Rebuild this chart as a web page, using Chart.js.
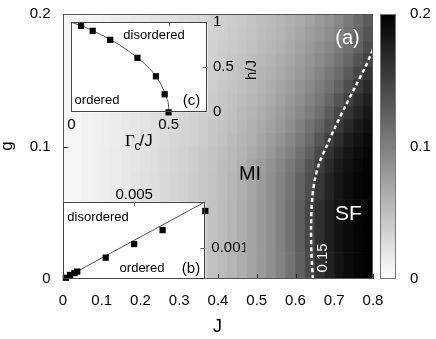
<!DOCTYPE html>
<html><head><meta charset="utf-8">
<script src="https://cdn.jsdelivr.net/npm/chart.js@4.4.1/dist/chart.umd.min.js"></script>
<style>
html,body{margin:0;padding:0;background:#fff;}
#wrap{position:relative;width:436px;height:339px;overflow:hidden;}
#wrap canvas{position:absolute;left:0;top:0;}
</style></head><body>
<div id="wrap">
<canvas id="main" width="436" height="339"></canvas>
<canvas id="insetB" width="436" height="339"></canvas>
<canvas id="insetC" width="436" height="339"></canvas>
</div>
<script>
// ---------- data ----------
const jCenters = [0.0125,0.0375,0.0625,0.0875,0.1125,0.1375,0.1625,0.1875,0.2125,0.2375,0.2625,0.2875,0.3125,0.3375,0.3625,0.3875,0.4125,0.4375,0.4625,0.4875,0.5125,0.5375,0.5625,0.5875,0.6125,0.6375,0.6625,0.6875,0.7125,0.7375,0.7625,0.7875];
const gEdges = [0,0.02,0.04,0.06,0.08,0.09,0.10,0.11,0.12,0.13,0.14,0.15,0.16,0.17,0.18,0.19,0.20];
const heatRows = [
 [0.006,0.008,0.010,0.012,0.014,0.016,0.018,0.021,0.024,0.027,0.030,0.033,0.036,0.040,0.044,0.048,0.053,0.058,0.064,0.071,0.079,0.088,0.098,0.110,0.124,0.142,0.160,0.174,0.184,0.191,0.196,0.199],
 [0.006,0.008,0.010,0.012,0.014,0.016,0.018,0.021,0.024,0.027,0.030,0.033,0.036,0.040,0.044,0.048,0.053,0.058,0.064,0.071,0.079,0.088,0.099,0.111,0.126,0.145,0.162,0.175,0.185,0.191,0.196,0.199],
 [0.006,0.008,0.010,0.012,0.014,0.016,0.018,0.021,0.024,0.027,0.030,0.033,0.036,0.040,0.044,0.048,0.053,0.058,0.064,0.071,0.079,0.088,0.099,0.111,0.126,0.144,0.162,0.175,0.185,0.191,0.196,0.199],
 [0.006,0.008,0.010,0.012,0.014,0.016,0.018,0.021,0.024,0.027,0.030,0.033,0.036,0.040,0.043,0.047,0.052,0.057,0.063,0.070,0.078,0.087,0.097,0.108,0.122,0.139,0.157,0.172,0.183,0.190,0.195,0.198],
 [0.006,0.008,0.010,0.012,0.014,0.016,0.018,0.020,0.023,0.026,0.029,0.032,0.035,0.039,0.043,0.046,0.052,0.056,0.062,0.069,0.076,0.085,0.094,0.105,0.118,0.134,0.151,0.167,0.179,0.187,0.193,0.197],
 [0.006,0.008,0.010,0.012,0.014,0.016,0.018,0.020,0.023,0.026,0.029,0.032,0.035,0.039,0.043,0.046,0.050,0.055,0.060,0.066,0.073,0.081,0.090,0.100,0.111,0.125,0.142,0.160,0.173,0.183,0.190,0.195],
 [0.006,0.008,0.010,0.012,0.013,0.015,0.017,0.020,0.022,0.025,0.028,0.031,0.034,0.036,0.040,0.044,0.048,0.053,0.058,0.063,0.070,0.077,0.085,0.094,0.105,0.117,0.132,0.149,0.165,0.177,0.186,0.192],
 [0.006,0.008,0.010,0.012,0.013,0.015,0.017,0.020,0.022,0.025,0.028,0.031,0.034,0.036,0.040,0.044,0.047,0.051,0.056,0.061,0.067,0.073,0.081,0.089,0.099,0.110,0.122,0.138,0.155,0.169,0.180,0.187],
 [0.006,0.008,0.010,0.011,0.013,0.015,0.017,0.019,0.021,0.024,0.027,0.029,0.032,0.035,0.038,0.041,0.045,0.049,0.054,0.058,0.064,0.070,0.077,0.084,0.093,0.103,0.114,0.128,0.144,0.160,0.172,0.182],
 [0.006,0.008,0.010,0.011,0.013,0.015,0.017,0.019,0.021,0.024,0.027,0.029,0.032,0.035,0.038,0.041,0.044,0.048,0.052,0.056,0.061,0.067,0.073,0.080,0.088,0.097,0.107,0.119,0.133,0.149,0.164,0.176],
 [0.006,0.008,0.009,0.011,0.013,0.014,0.016,0.018,0.020,0.023,0.025,0.028,0.030,0.033,0.035,0.039,0.043,0.046,0.050,0.054,0.059,0.064,0.070,0.076,0.084,0.092,0.101,0.111,0.123,0.139,0.154,0.167],
 [0.006,0.008,0.009,0.011,0.013,0.014,0.016,0.018,0.020,0.023,0.025,0.028,0.030,0.033,0.035,0.039,0.041,0.045,0.048,0.052,0.057,0.061,0.067,0.073,0.080,0.087,0.096,0.105,0.116,0.129,0.144,0.159],
 [0.006,0.007,0.009,0.011,0.012,0.014,0.016,0.017,0.019,0.022,0.024,0.027,0.029,0.031,0.034,0.036,0.040,0.044,0.047,0.051,0.055,0.059,0.064,0.070,0.076,0.083,0.091,0.099,0.109,0.120,0.134,0.149],
 [0.006,0.007,0.009,0.011,0.012,0.014,0.016,0.017,0.019,0.022,0.024,0.027,0.029,0.031,0.034,0.036,0.039,0.042,0.045,0.049,0.053,0.057,0.061,0.067,0.072,0.079,0.086,0.094,0.103,0.113,0.124,0.138],
 [0.006,0.007,0.009,0.010,0.012,0.014,0.015,0.017,0.018,0.021,0.023,0.025,0.028,0.030,0.032,0.035,0.038,0.041,0.044,0.047,0.051,0.055,0.059,0.064,0.070,0.076,0.082,0.089,0.097,0.109,0.121,0.134],
 [0.006,0.007,0.009,0.010,0.012,0.014,0.015,0.017,0.018,0.021,0.023,0.025,0.028,0.030,0.032,0.035,0.037,0.040,0.043,0.046,0.050,0.053,0.057,0.062,0.067,0.072,0.079,0.085,0.093,0.105,0.116,0.129]
];

const contourJ = [0.645,0.641,0.640,0.643,0.650,0.662,0.680,0.703,0.728,0.754,0.780,0.797,0.800];
const contourG = [0,0.02,0.04,0.06,0.075,0.088,0.10,0.115,0.13,0.145,0.160,0.171,0.173];

const xTicks = [0,0.1,0.2,0.3,0.4,0.5,0.6,0.7,0.8];
const xTickLabels = ['0','0.1','0.2','0.3','0.4','0.5','0.6','0.7','0.8'];
const yTicks = [0,0.1,0.2];
const yTickLabels = ['0','0.1','0.2'];
const cbTicks = [0,0.1,0.2];
const cbTickLabels = ['0','0.1','0.2'];

// inset (b)
const bX = [0.0002,0.0005,0.0008,0.001,0.003,0.005,0.007,0.01];
const bY = [0.00004,0.00013,0.00019,0.00024,0.00069,0.00113,0.00158,0.0022];
const bLineX = [0,0.01];
const bLineY = [0,0.0025];
const bTopTicks = [0.005];
const bTopLabels = ['0.005'];
const bRightTicks = [0.001];
const bRightLabels = ['0.001'];

// inset (c)
const cGamma = [0.05,0.11,0.2,0.34,0.435,0.48,0.5];
const cH = [0.96,0.905,0.805,0.605,0.4,0.2,0];
const cLineGamma = [0,0.05,0.1,0.15,0.2,0.25,0.3,0.35,0.4,0.44,0.47,0.49,0.5,0.502];
const cLineH = [1,0.963,0.918,0.866,0.81,0.745,0.672,0.59,0.49,0.385,0.27,0.16,0.07,0];
const cXTicks = [0,0.5];
const cXLabels = ['0','0.5'];
const cYTicks = [0,0.5,1];
const cYLabels = ['0','0.5','1'];

// ---------- rendering ----------
const FONT = "'Liberation Sans', Arial, Helvetica, sans-serif";
Chart.defaults.font.family = FONT;
Chart.defaults.color = '#000';

const VMAX = 0.2;
function grayOf(v){ const c = Math.round(255*(1-Math.min(1,Math.max(0,v/VMAX)))); return `rgb(${c},${c},${c})`; }
function fixedTicks(values){ return s => { s.ticks = values.map(v => ({value:v})); }; }
function offsetGrid(len){ return {display:false, drawOnChartArea:false, drawTicks:true, tickLength:len}; }
function text(ctx, s, x, y, size, color, rot, align, base, family){
  ctx.save();
  ctx.font = size + 'px ' + (family || FONT);
  ctx.fillStyle = color;
  ctx.textAlign = align || 'center';
  ctx.textBaseline = base || 'middle';
  ctx.translate(x, y);
  if (rot) ctx.rotate(rot);
  ctx.fillText(s, 0, 0);
  ctx.restore();
}

const heatDatasets = heatRows.map((row, r) => ({
  type:'bar', xAxisID:'xc', yAxisID:'y',
  data: row.map(() => [gEdges[r], gEdges[r+1]]),
  backgroundColor: row.map(grayOf),
  borderWidth:0, barPercentage:1, categoryPercentage:1, grouped:false, order:2
}));

const mainDecor = {
  id:'mainDecor',
  afterDatasetsDraw(chart){
    const {ctx, chartArea:a, scales} = chart;
    ctx.save();
    ctx.strokeStyle = '#222'; ctx.lineWidth = 1;
    xTicks.forEach(v => { const px = Math.round(scales.x.getPixelForValue(v)) + 0.5;
      ctx.beginPath(); ctx.moveTo(px, a.bottom); ctx.lineTo(px, a.bottom - 5); ctx.stroke(); });
    yTicks.forEach(v => { const py = Math.round(scales.y.getPixelForValue(v)) + 0.5;
      ctx.beginPath(); ctx.moveTo(a.left, py); ctx.lineTo(a.left + 5, py); ctx.stroke(); });
    ctx.strokeStyle = '#555';
    ctx.strokeRect(Math.round(a.left)+0.5, Math.round(a.top)+0.5, Math.round(a.right-a.left)-1, Math.round(a.bottom-a.top)-1);
    ctx.restore();
  },
  afterDraw(chart){
    const {ctx, scales} = chart;
    const cb = scales.ycb;
    const y0 = cb.getPixelForValue(0), y1 = cb.getPixelForValue(VMAX);
    const cx0 = 380, cx1 = 396;
    ctx.save();
    const grad = ctx.createLinearGradient(0, y0, 0, y1);
    grad.addColorStop(0, grayOf(0)); grad.addColorStop(1, grayOf(VMAX));
    ctx.fillStyle = grad;
    ctx.fillRect(cx0, y1, cx1-cx0, y0-y1);
    ctx.strokeStyle = '#777'; ctx.lineWidth = 1;
    ctx.strokeRect(cx0+0.5, Math.round(y1)+0.5, cx1-cx0-1, Math.round(y0-y1)-1);
    const ym = Math.round(cb.getPixelForValue(0.1)) + 0.5;
    ctx.beginPath(); ctx.moveTo(cx0, ym); ctx.lineTo(cx0+4, ym); ctx.moveTo(cx1, ym); ctx.lineTo(cx1-4, ym); ctx.stroke();
    ctx.restore();
    text(ctx, 'g', 7, 146, 17, '#000', -Math.PI/2);
    text(ctx, 'J', 217.5, 331.5, 18, '#000', 0, 'center', 'alphabetic');
    text(ctx, 'MI', 250, 174, 20, '#000');
    text(ctx, 'SF', 348.5, 214, 21, '#fff');
    text(ctx, '(a)', 347.5, 38, 20, '#fff');
    text(ctx, '0.15', 323, 258, 15, '#fff', -Math.PI/2);
  }
};

new Chart(document.getElementById('main'), {
  type:'bar',
  data:{ labels: jCenters.map(String), datasets:[...heatDatasets, {
    type:'line', xAxisID:'x', yAxisID:'y',
    data: contourJ.map((j,i) => ({x:j, y:contourG[i]})),
    borderColor:'#fff', borderWidth:2.5, borderDash:[4,3], pointRadius:0, tension:0.3, fill:false, order:0
  }]},
  options:{
    responsive:false, animation:false, devicePixelRatio:1,
    layout:{padding:{top:14,left:0,right:0,bottom:0}},
    plugins:{legend:{display:false}, tooltip:{enabled:false}},
    scales:{
      xc:{type:'category', display:false, position:'bottom', offset:true, grid:{display:false, drawTicks:false}, ticks:{display:false},
          afterFit: s => { s.height = 0; }},
      x:{type:'linear', position:'bottom', min:0, max:0.8, offset:false, grid:offsetGrid(13), border:{display:false},
         afterBuildTicks: fixedTicks(xTicks),
         ticks:{callback:(v,i)=>xTickLabels[i], padding:0, font:{size:15}, autoSkip:false, maxRotation:0},
         afterFit: s => { s.height = 60; }},
      y:{type:'linear', position:'left', min:0, max:0.2, grid:offsetGrid(12.5), border:{display:false},
         afterBuildTicks: fixedTicks(yTicks),
         ticks:{callback:(v,i)=>yTickLabels[i], padding:0, font:{size:15}},
         afterFit: s => { s.width = 63; }},
      ycb:{type:'linear', position:'right', min:0, max:0.2, grid:offsetGrid(37), border:{display:false},
         afterBuildTicks: fixedTicks(cbTicks),
         ticks:{callback:(v,i)=>cbTickLabels[i], padding:0, font:{size:15}},
         afterFit: s => { s.width = 63; }}
    }
  },
  plugins:[mainDecor]
});

function insetDecor(cfg){
  return {
    id:'insetDecor',
    beforeDatasetsDraw(chart){
      const {ctx, chartArea:a} = chart;
      ctx.save(); ctx.fillStyle = '#fff'; ctx.fillRect(a.left, a.top, a.right-a.left, a.bottom-a.top); ctx.restore();
    },
    afterDatasetsDraw(chart){
      const {ctx, chartArea:a, scales} = chart;
      ctx.save();
      ctx.strokeStyle = '#444'; ctx.lineWidth = 1;
      ctx.strokeRect(Math.round(a.left)+0.5, Math.round(a.top)+0.5, Math.round(a.right-a.left)-1, Math.round(a.bottom-a.top)-1);
      ctx.strokeStyle = '#666';
      (cfg.xTop||[]).forEach(v => { const px = Math.round(scales.x.getPixelForValue(v))+0.5;
        ctx.beginPath(); ctx.moveTo(px, a.top); ctx.lineTo(px, a.top+4); ctx.stroke(); });
      (cfg.yRight||[]).forEach(v => { const py = Math.round(scales.y.getPixelForValue(v))+0.5;
        ctx.beginPath(); ctx.moveTo(a.right, py); ctx.lineTo(a.right-5, py); ctx.stroke(); });
      ctx.restore();
      cfg.texts(ctx);
    }
  };
}

new Chart(document.getElementById('insetB'), {
  type:'scatter',
  data:{datasets:[
    {data: bLineX.map((x,i)=>({x, y:bLineY[i]})), showLine:true, borderColor:'#555', borderWidth:1, pointRadius:0, clip:false, order:1},
    {data: bX.map((x,i)=>({x, y:bY[i]})), pointStyle:'rect', pointRadius:4.4, backgroundColor:'#000', borderWidth:0, clip:false, order:0}
  ]},
  options:{
    responsive:false, animation:false, devicePixelRatio:1,
    layout:{padding:{left:63, top:181.7, right:190.7, bottom:60}},
    plugins:{legend:{display:false}, tooltip:{enabled:false}},
    scales:{
      x:{type:'linear', position:'top', min:0, max:0.01, grid:offsetGrid(0), border:{display:false},
         afterBuildTicks: fixedTicks(bTopTicks),
         ticks:{callback:(v,i)=>bTopLabels[i], padding:-2, font:{size:15}, autoSkip:false, maxRotation:0},
         afterFit: s => { s.height = 20; }},
      y:{type:'linear', position:'right', min:0, max:0.0025, grid:offsetGrid(6), border:{display:false},
         afterBuildTicks: fixedTicks(bRightTicks),
         ticks:{callback:(v,i)=>bRightLabels[i], padding:0, font:{size:15}},
         afterFit: s => { s.width = 40; }}
    }
  },
  plugins:[insetDecor({xTop:bTopTicks, yRight:bRightTicks, texts(ctx){
    text(ctx, 'disordered', 98, 217, 13, '#000');
    text(ctx, 'ordered', 142, 268, 13, '#000');
    text(ctx, '(b)', 191, 268.5, 15, '#000');
  }})]
});

new Chart(document.getElementById('insetC'), {
  type:'scatter',
  data:{datasets:[
    {data: cLineGamma.map((x,i)=>({x, y:cLineH[i]})), showLine:true, borderColor:'#555', borderWidth:1, pointRadius:0, cubicInterpolationMode:'monotone', clip:false, order:1},
    {data: cGamma.map((x,i)=>({x, y:cH[i]})), pointStyle:'rect', pointRadius:4.4, backgroundColor:'#000', borderWidth:0, clip:false, order:0}
  ]},
  options:{
    responsive:false, animation:false, devicePixelRatio:1,
    layout:{padding:{left:71.3, top:22.3, right:198.5, bottom:186.7}},
    plugins:{legend:{display:false}, tooltip:{enabled:false}},
    scales:{
      x:{type:'linear', position:'bottom', min:0, max:0.7, grid:offsetGrid(4), border:{display:false},
         afterBuildTicks: fixedTicks(cXTicks),
         ticks:{callback:(v,i)=>cXLabels[i], padding:0, font:{size:15}, autoSkip:false, maxRotation:0},
         afterFit: s => { s.height = 40; }},
      y:{type:'linear', position:'right', min:0, max:1, grid:offsetGrid(5.5), border:{display:false},
         afterBuildTicks: fixedTicks(cYTicks),
         ticks:{callback:(v,i)=>cYLabels[i], padding:0, font:{size:15}},
         afterFit: s => { s.width = 30; }}
    }
  },
  plugins:[insetDecor({xTop:[0.5], yRight:[0.5], texts(ctx){
    text(ctx, 'disordered', 154, 35, 13, '#000');
    text(ctx, 'ordered', 97, 100, 13, '#000');
    text(ctx, '(c)', 191.5, 100.5, 15, '#000');
    text(ctx, 'h/J', 252, 70, 15, '#000', -Math.PI/2);
    text(ctx, 'Γ', 125, 146, 17, '#000', 0, 'left', 'alphabetic', "'Liberation Serif', 'Times New Roman', serif");
    text(ctx, 'c', 134.5, 150, 12, '#000', 0, 'left', 'alphabetic');
    text(ctx, '/J', 139.5, 146, 17, '#000', 0, 'left', 'alphabetic');
  }})]
});
</script>
</body></html>
